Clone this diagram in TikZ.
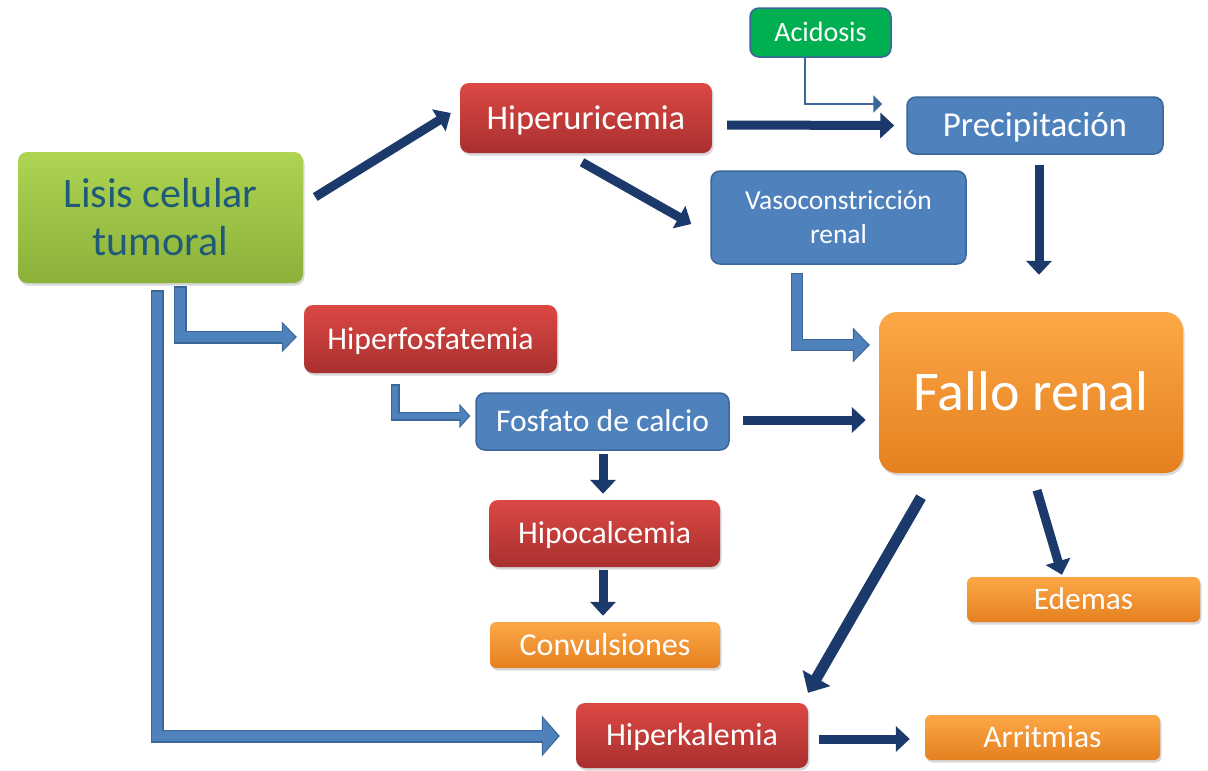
\documentclass[tikz,border=0pt]{standalone}
\usepackage{fontspec}
\setmainfont{Carlito}
\usetikzlibrary{arrows.meta,calc,shadows}
\definecolor{navy}{HTML}{1B3A6B}
\definecolor{bfill}{HTML}{4F81BD}
\definecolor{bline}{HTML}{3A669A}
\definecolor{redT}{HTML}{DC4844}
\definecolor{redB}{HTML}{A8302E}
\definecolor{orT}{HTML}{FCA747}
\definecolor{orB}{HTML}{E5801F}
\definecolor{grT}{HTML}{AED452}
\definecolor{grB}{HTML}{8BB13A}
\definecolor{acidG}{HTML}{00B050}
\definecolor{lisisT}{HTML}{1F5A78}
\newcommand\topst{\rule{0pt}{0.9em}}
\newcommand\botst{\rule[-0.256em]{0pt}{0.256em}}
\tikzset{
  bx/.style={rounded corners=9pt, inner sep=0pt, align=center, text=white},
  shd/.style={drop shadow={shadow xshift=1.5pt, shadow yshift=-2.5pt, opacity=0.3}},
  redbx/.style={bx, shd, top color=redT, bottom color=redB},
  orbx/.style={bx, shd, top color=orT, bottom color=orB},
  grbx/.style={bx, shd, top color=grT, bottom color=grB, text=lisisT},
  bluebx/.style={bx, fill=bfill, draw=bline, line width=1.5pt},
  acidbx/.style={bx, fill=acidG, draw=bline, line width=1.5pt},
  nav/.style={draw=navy, line width=9pt, -{Triangle[length=14pt,width=25pt]}},
  navthick/.style={draw=navy, line width=11pt, -{Triangle[length=17pt,width=31pt]}},
  thinarr/.style={draw=bline, line width=2pt, -{Triangle[length=9pt,width=17pt]}},
  bo/.style n args={3}{draw=bline, line width=#1, line join=miter, -{Triangle[length=#2,width=#3]}},
  bi/.style n args={3}{draw=bfill, line width=#1, line join=miter, -{Triangle[length=#2,width=#3]}, shorten <=1.4pt, shorten >=2pt},
}
\begin{document}
\begin{tikzpicture}[x=1pt,y=-1pt]
\fill[white] (0,0) rectangle (1208,771);
\useasboundingbox (0,0) rectangle (1208,771);

% nodes
\node[grbx, minimum width=285pt, minimum height=131pt, font=\fontsize{42}{48}\selectfont] (lisis) at (160.5,217.5) {\topst Lisis celular\\tumoral\botst};
\node[redbx, minimum width=252pt, minimum height=70pt, font=\fontsize{34.5}{40}\selectfont] (hiperu) at (586,118) {\topst Hiperuricemia\botst};
\node[acidbx, minimum width=141pt, minimum height=49pt, font=\fontsize{28}{32}\selectfont] (acid) at (820.5,32.5) {\topst Acidosis\botst};
\node[bluebx, minimum width=256pt, minimum height=57pt, font=\fontsize{35}{40}\selectfont] (precip) at (1035,125.5) {\topst Precipitación\botst};
\node[bluebx, minimum width=255pt, minimum height=93pt, font=\fontsize{27.5}{34}\selectfont] (vaso) at (838.5,217.5) {\topst Vasoconstricción\\renal\botst};
\node[redbx, minimum width=253pt, minimum height=68pt, font=\fontsize{31.7}{36}\selectfont] (hiperf) at (430.5,339) {\topst Hiperfosfatemia\botst};
\node[bluebx, minimum width=253pt, minimum height=57pt, font=\fontsize{31.6}{36}\selectfont] (fosf) at (602.5,421.5) {\topst Fosfato de calcio\botst};
\node[orbx, minimum width=304pt, minimum height=161pt, rounded corners=18pt, font=\fontsize{56}{62}\selectfont] (fallo) at (1031,392.5) {\topst Fallo renal\botst};
\node[redbx, minimum width=231pt, minimum height=67pt, font=\fontsize{31.7}{36}\selectfont] (hipoc) at (604.5,533.5) {\topst Hipocalcemia\botst};
\node[orbx, minimum width=230pt, minimum height=46pt, rounded corners=6pt, font=\fontsize{32}{36}\selectfont] (conv) at (605,645) {\topst Convulsiones\botst};
\node[orbx, minimum width=233pt, minimum height=45pt, rounded corners=6pt, font=\fontsize{31.4}{36}\selectfont] (edem) at (1083.5,599.5) {\topst Edemas\botst};
\node[redbx, minimum width=232pt, minimum height=65pt, font=\fontsize{32}{36}\selectfont] (hiperk) at (692,735.5) {\topst Hiperkalemia\botst};
\node[orbx, minimum width=235pt, minimum height=45pt, rounded corners=6pt, font=\fontsize{31.6}{36}\selectfont] (arrit) at (1042.5,737.5) {\topst Arritmias\botst};

% navy arrows
\draw[nav] ($(lisis.east)+(12,-20.5)$) -- ($(hiperu.west)+(-9,-5)$);
\draw[nav] ($(hiperu.east)+(15,7)$) -- ($(precip.west)+(-12,0)$);
\draw[nav] ($(hiperu.south)+(-4,9)$) -- ($(vaso.west)+(-19,6.5)$);
\draw[nav] ($(precip.south)+(4,10)$) -- ($(fallo.north)+(8,-37)$);
\draw[nav] ($(fosf.east)+(13,-1.5)$) -- ($(fallo.west)+(-13,27.5)$);
\draw[nav] ($(fosf.south)+(0.5,3)$) -- ($(hipoc.north)+(-1.5,-6)$);
\draw[nav] ($(hipoc.south)+(-1.5,3)$) -- ($(conv.north)+(-2,-6)$);
\draw[navthick] ($(fallo.south)+(-110,24)$) -- ($(hiperk.north)+(116,-10)$);
\draw[nav] ($(fallo.south)+(6,17)$) -- ($(edem.north)+(-21.5,-2)$);
\draw[nav] ($(hiperk.east)+(11,3.5)$) -- ($(arrit.west)+(-15,1.5)$);

% thin arrow from Acidosis
\draw[thinarr] ($(acid.south)+(-15.5,0)$) |- ($(precip.west)+(-24,-21.5)$);

% block elbow arrows
\draw[bo={12pt}{17pt}{34pt}] ($(vaso.south)+(-41.5,8)$) |- ($(fallo.west)+(-9,-47.5)$);
\draw[bi={9.2pt}{13.8pt}{29pt}] ($(vaso.south)+(-41.5,8)$) |- ($(fallo.west)+(-9,-47.5)$);

\draw[bo={13pt}{15pt}{30pt}] ($(lisis.south)+(19.5,3)$) |- ($(hiperf.west)+(-7,-2)$);
\draw[bi={10.2pt}{11.8pt}{25pt}] ($(lisis.south)+(19.5,3)$) |- ($(hiperf.west)+(-7,-2)$);

\draw[bo={13pt}{18pt}{40pt}] ($(lisis.south)+(-3.5,7)$) |- ($(hiperk.west)+(-16,0.5)$);
\draw[bi={10.2pt}{14.8pt}{35pt}] ($(lisis.south)+(-3.5,7)$) |- ($(hiperk.west)+(-16,0.5)$);

\draw[bo={9pt}{11pt}{24pt}] ($(hiperf.south)+(-35.5,11)$) |- ($(fosf.west)+(-5,-5.5)$);
\draw[bi={6.2pt}{7.8pt}{19pt}] ($(hiperf.south)+(-35.5,11)$) |- ($(fosf.west)+(-5,-5.5)$);
\end{tikzpicture}
\end{document}
